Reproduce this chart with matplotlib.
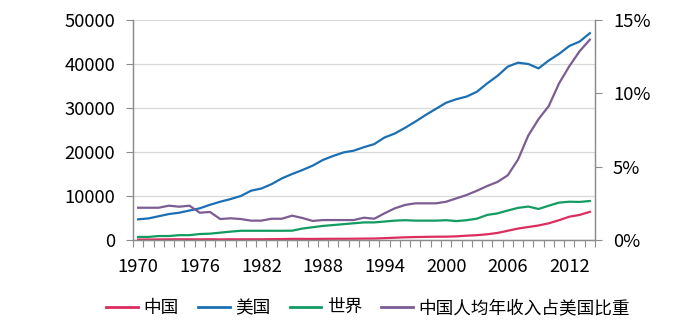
import numpy as np
import matplotlib.pyplot as plt
from matplotlib.lines import Line2D

plt.rcParams['font.family'] = ['Noto Sans CJK SC', 'DejaVu Sans']

# years 1970 - 2014, category axis
years = list(range(1970, 2015))

# per-capita income, USD (left axis)
china = [100, 110, 130, 150, 160, 160, 140, 170, 140, 160, 150, 160, 160, 190, 210, 260, 250, 240, 260, 270,
         280, 290, 320, 330, 420, 520, 610, 670, 710, 750, 760, 830, 980, 1100, 1300, 1600, 2100, 2600, 2950, 3300,
         3800, 4500, 5300, 5700, 6400]
usa = [4700, 4900, 5400, 5900, 6200, 6700, 7200, 8000, 8700, 9300, 10000, 11200, 11700, 12700, 14000, 15000, 15900,
       16900, 18200, 19100, 19900, 20300, 21100, 21800, 23300, 24200, 25500, 26900, 28400, 29800, 31200, 32000,
       32600, 33700, 35600, 37300, 39400, 40300, 40000, 39000, 40800, 42300, 44100, 45100, 47000]
world = [700, 700, 900, 900, 1100, 1100, 1360, 1440, 1670, 1900, 2100, 2100, 2100, 2100, 2100, 2120, 2600, 2900,
         3200, 3400, 3600, 3800, 4000, 4000, 4200, 4400, 4500, 4400, 4400, 4400, 4500, 4300, 4500, 4850, 5700,
         6050, 6700, 7300, 7600, 7050, 7800, 8500, 8700, 8650, 8860]

# China as share of US income, % (right axis)
ratio = [2.20, 2.20, 2.20, 2.34, 2.27, 2.34, 1.86, 1.91, 1.43, 1.48, 1.43, 1.32, 1.32, 1.45, 1.45, 1.66, 1.50,
         1.30, 1.36, 1.36, 1.36, 1.36, 1.52, 1.45, 1.82, 2.16, 2.39, 2.50, 2.50, 2.50, 2.61, 2.84, 3.07, 3.36,
         3.68, 3.96, 4.41, 5.48, 7.12, 8.24, 9.14, 10.68, 11.85, 12.87, 13.66]

names = ['中国', '美国', '世界', '中国人均年收入占美国比重']
colors = ['#dc2d5e', '#1b6fb3', '#129c62', '#7b5c93']
axis_grey = '#8c8c8c'
fs = 13.3

x = np.arange(len(years))

fig = plt.figure(figsize=(6.83, 3.28), dpi=100)
ax = fig.add_axes([133 / 683, 1 - 240 / 328, 462 / 683, 220 / 328])
ax2 = ax.twinx()

for vals, c in zip([china, usa, world], colors[:3]):
    ax.plot(x, vals, color=c, lw=1.6, solid_joinstyle='round')
ax2.plot(x, ratio, color=colors[3], lw=1.6, solid_joinstyle='round')

ax.set_xlim(-0.5, len(years) - 0.5)
ax.set_ylim(0, 50000)
ax.set_yticks(range(0, 50001, 10000))
ax2.set_ylim(0, 15)
ax2.set_yticks([0, 5, 10, 15])
ax2.set_yticklabels(['{}%'.format(v) for v in [0, 5, 10, 15]])

# labels every 6 years, tick marks between categories
ax.set_xticks(x[::6])
ax.set_xticklabels([str(years[i]) for i in x[::6]])
ax.set_xticks(np.arange(-0.5, len(years), 1), minor=True)
ax.tick_params(axis='x', which='major', length=0, pad=13, labelsize=fs, colors='black')
ax.tick_params(axis='x', which='minor', length=5, width=0.8, color=axis_grey, direction='out')
ax.tick_params(axis='y', length=5, width=0.8, color=axis_grey, labelsize=fs, pad=8)
ax2.tick_params(axis='y', length=5, width=0.8, color=axis_grey, labelsize=fs, pad=8)

ax.yaxis.grid(True, color='#d9d9d9', lw=0.9)
ax.set_axisbelow(True)

for a in (ax, ax2):
    a.spines['top'].set_visible(False)
    for s in ('left', 'right', 'bottom'):
        a.spines[s].set_color(axis_grey)
        a.spines[s].set_linewidth(0.9)

handles = [Line2D([], [], color=c, lw=2) for c in colors]
fig.legend(handles, names, loc='center', bbox_to_anchor=(368 / 683, 1 - 308 / 328), ncol=4,
           frameon=False, fontsize=12.7, handlelength=1.8, handletextpad=0.3, columnspacing=1.1)

fig.savefig('out.png', dpi=100)
